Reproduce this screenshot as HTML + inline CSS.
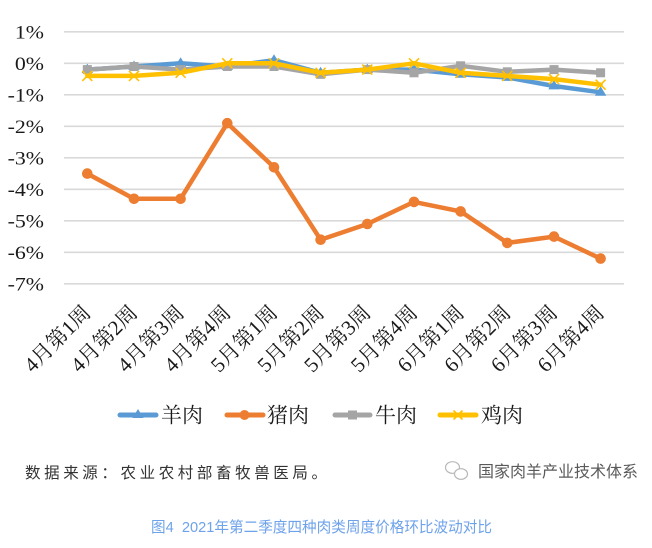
<!DOCTYPE html>
<html>
<head>
<meta charset="utf-8">
<style>
  html,body{margin:0;padding:0;background:#fff;}
  svg{display:block;}
  .ser{font-family:"Liberation Serif","Noto Serif CJK SC",serif;fill:#1a1a1a;}
  .sans{font-family:"Liberation Sans","Noto Sans CJK SC",sans-serif;}
</style>
</head>
<body>
<svg width="652" height="548" viewBox="0 0 652 548" xmlns="http://www.w3.org/2000/svg">
  <rect width="652" height="548" fill="#fff"/>
  <!-- gridlines -->
  <g stroke="#d9d9d9" stroke-width="1.6">
    <line x1="64" y1="31.8" x2="624" y2="31.8"/>
    <line x1="64" y1="63.3" x2="624" y2="63.3"/>
    <line x1="64" y1="94.8" x2="624" y2="94.8"/>
    <line x1="64" y1="126.3" x2="624" y2="126.3"/>
    <line x1="64" y1="157.8" x2="624" y2="157.8"/>
    <line x1="64" y1="189.3" x2="624" y2="189.3"/>
    <line x1="64" y1="220.8" x2="624" y2="220.8"/>
    <line x1="64" y1="252.3" x2="624" y2="252.3"/>
    <line x1="64" y1="283.8" x2="624" y2="283.8"/>
  </g>
  <!-- y labels -->
  <g class="ser" font-size="19" text-anchor="end">
    <text transform="translate(44,38.3) scale(1.15,1)">1%</text>
    <text transform="translate(44,69.8) scale(1.15,1)">0%</text>
    <text transform="translate(44,101.3) scale(1.15,1)">-1%</text>
    <text transform="translate(44,132.8) scale(1.15,1)">-2%</text>
    <text transform="translate(44,164.3) scale(1.15,1)">-3%</text>
    <text transform="translate(44,195.8) scale(1.15,1)">-4%</text>
    <text transform="translate(44,227.3) scale(1.15,1)">-5%</text>
    <text transform="translate(44,258.8) scale(1.15,1)">-6%</text>
    <text transform="translate(44,290.3) scale(1.15,1)">-7%</text>
  </g>

  <!-- lamb (blue) -->
  <polyline fill="none" stroke="#5b9bd5" stroke-width="4.5" stroke-linejoin="round" stroke-linecap="round"
    points="87.3,69.6 134,66.5 180.6,63.3 227.3,66.5 274,60.2 320.6,72.8 367.3,69.6 414,69.6 460.6,74.3 507.3,77.5 554,86 600.6,92.3"/>
  <g fill="#5b9bd5">
    <polygon points="87.3,63.6 93,73 81.6,73"/>
    <polygon points="134,60.5 139.7,69.9 128.3,69.9"/>
    <polygon points="180.6,57.3 186.3,66.7 174.9,66.7"/>
    <polygon points="227.3,60.5 233,69.9 221.6,69.9"/>
    <polygon points="274,54.2 279.7,63.6 268.3,63.6"/>
    <polygon points="320.6,66.8 326.3,76.2 314.9,76.2"/>
    <polygon points="367.3,63.6 373,73 361.6,73"/>
    <polygon points="414,63.6 419.7,73 408.3,73"/>
    <polygon points="460.6,68.3 466.3,77.7 454.9,77.7"/>
    <polygon points="507.3,71.5 513,80.9 501.6,80.9"/>
    <polygon points="554,80 559.7,89.4 548.3,89.4"/>
    <polygon points="600.6,86.3 606.3,95.7 594.9,95.7"/>
  </g>

  <!-- pork (orange) -->
  <polyline fill="none" stroke="#ed7d31" stroke-width="4.5" stroke-linejoin="round" stroke-linecap="round"
    points="87.3,173.6 134,198.8 180.6,198.8 227.3,123.2 274,167.3 320.6,239.7 367.3,224 414,201.9 460.6,211.4 507.3,242.9 554,236.6 600.6,258.6"/>
  <g fill="#ed7d31">
    <circle cx="87.3" cy="173.6" r="5.3"/>
    <circle cx="134" cy="198.8" r="5.3"/>
    <circle cx="180.6" cy="198.8" r="5.3"/>
    <circle cx="227.3" cy="123.2" r="5.3"/>
    <circle cx="274" cy="167.3" r="5.3"/>
    <circle cx="320.6" cy="239.7" r="5.3"/>
    <circle cx="367.3" cy="224" r="5.3"/>
    <circle cx="414" cy="201.9" r="5.3"/>
    <circle cx="460.6" cy="211.4" r="5.3"/>
    <circle cx="507.3" cy="242.9" r="5.3"/>
    <circle cx="554" cy="236.6" r="5.3"/>
    <circle cx="600.6" cy="258.6" r="5.3"/>
  </g>

  <!-- beef (gray) -->
  <polyline fill="none" stroke="#a5a5a5" stroke-width="4.5" stroke-linejoin="round" stroke-linecap="round"
    points="87.3,69.6 134,66.5 180.6,69.6 227.3,66.5 274,66.5 320.6,74.3 367.3,69.6 414,72.8 460.6,65.8 507.3,71.8 554,69.6 600.6,72.8"/>
  <g fill="#a5a5a5">
    <rect x="82.8" y="65.1" width="9" height="9"/>
    <rect x="129.5" y="62" width="9" height="9"/>
    <rect x="176.1" y="65.1" width="9" height="9"/>
    <rect x="222.8" y="62" width="9" height="9"/>
    <rect x="269.5" y="62" width="9" height="9"/>
    <rect x="316.1" y="69.8" width="9" height="9"/>
    <rect x="362.8" y="65.1" width="9" height="9"/>
    <rect x="409.5" y="68.3" width="9" height="9"/>
    <rect x="456.1" y="61.3" width="9" height="9"/>
    <rect x="502.8" y="67.3" width="9" height="9"/>
    <rect x="549.5" y="65.1" width="9" height="9"/>
    <rect x="596.1" y="68.3" width="9" height="9"/>
  </g>

  <!-- chicken (yellow) -->
  <polyline fill="none" stroke="#ffc000" stroke-width="4.5" stroke-linejoin="round" stroke-linecap="round"
    points="87.3,75.9 134,75.9 180.6,72.8 227.3,63.3 274,63.3 320.6,72.8 367.3,69.6 414,63.3 460.6,72.8 507.3,75.9 554,79.1 600.6,84.7"/>
  <g stroke="#ffc000" stroke-width="1.6" fill="none">
    <path d="M82.3,70.9 l10,10 M92.3,70.9 l-10,10"/>
    <path d="M129,70.9 l10,10 M139,70.9 l-10,10"/>
    <path d="M175.6,67.8 l10,10 M185.6,67.8 l-10,10"/>
    <path d="M222.3,58.3 l10,10 M232.3,58.3 l-10,10"/>
    <path d="M269,58.3 l10,10 M279,58.3 l-10,10"/>
    <path d="M315.6,67.8 l10,10 M325.6,67.8 l-10,10"/>
    <path d="M362.3,64.6 l10,10 M372.3,64.6 l-10,10"/>
    <path d="M409,58.3 l10,10 M419,58.3 l-10,10"/>
    <path d="M455.6,67.8 l10,10 M465.6,67.8 l-10,10"/>
    <path d="M502.3,70.9 l10,10 M512.3,70.9 l-10,10"/>
    <path d="M549,74.1 l10,10 M559,74.1 l-10,10"/>
    <path d="M595.6,79.7 l10,10 M605.6,79.7 l-10,10"/>
  </g>

  <!-- x labels -->
  <g class="ser" font-size="21" text-anchor="end">
    <text transform="translate(92,314) rotate(-45)">4月第1周</text>
    <text transform="translate(138.7,314) rotate(-45)">4月第2周</text>
    <text transform="translate(185.3,314) rotate(-45)">4月第3周</text>
    <text transform="translate(232,314) rotate(-45)">4月第4周</text>
    <text transform="translate(278.7,314) rotate(-45)">5月第1周</text>
    <text transform="translate(325.3,314) rotate(-45)">5月第2周</text>
    <text transform="translate(372,314) rotate(-45)">5月第3周</text>
    <text transform="translate(418.7,314) rotate(-45)">5月第4周</text>
    <text transform="translate(465.3,314) rotate(-45)">6月第1周</text>
    <text transform="translate(512,314) rotate(-45)">6月第2周</text>
    <text transform="translate(558.7,314) rotate(-45)">6月第3周</text>
    <text transform="translate(605.3,314) rotate(-45)">6月第4周</text>
  </g>

  <!-- legend -->
  <g stroke-width="5" stroke-linecap="round">
    <line x1="120" y1="415" x2="156" y2="415" stroke="#5b9bd5"/>
    <line x1="227" y1="415" x2="263" y2="415" stroke="#ed7d31"/>
    <line x1="335" y1="415" x2="370" y2="415" stroke="#a5a5a5"/>
    <line x1="440" y1="415" x2="476" y2="415" stroke="#ffc000"/>
  </g>
  <polygon points="138,409 143.5,418 132.5,418" fill="#5b9bd5"/>
  <circle cx="244.5" cy="415" r="5" fill="#ed7d31"/>
  <rect x="348" y="410.5" width="9" height="9" fill="#a5a5a5"/>
  <path d="M453.5,410.5 l9,9 M462.5,410.5 l-9,9" stroke="#ffc000" stroke-width="1.6"/>
  <g class="ser" font-size="21">
    <text x="161" y="422.5">羊肉</text>
    <text x="267" y="422.5">猪肉</text>
    <text x="375" y="422.5">牛肉</text>
    <text x="481" y="422.5">鸡肉</text>
  </g>

  <!-- source -->
  <text x="25" y="478" font-size="15.5" fill="#333" letter-spacing="3.6"
    font-family="'Liberation Sans','Noto Sans CJK SC',sans-serif">数据来源：农业农村部畜牧兽医局。</text>

  <!-- watermark -->
  <g fill="none" stroke="#b8b8b8" stroke-width="1.2">
    <ellipse cx="452.5" cy="467.5" rx="7" ry="5.8"/>
    <ellipse cx="461" cy="474" rx="6.5" ry="5.3" fill="#fff"/>
  </g>
  <text x="478" y="477" font-size="16" fill="#5a5a5a" class="sans">国家肉羊产业技术体系</text>

  <!-- caption -->
  <text x="151" y="532" font-size="15" fill="#6ea2ea" class="sans" xml:space="preserve" style="white-space:pre" textLength="341" lengthAdjust="spacingAndGlyphs">图4  2021年第二季度四种肉类周度价格环比波动对比</text>
</svg>
</body>
</html>
